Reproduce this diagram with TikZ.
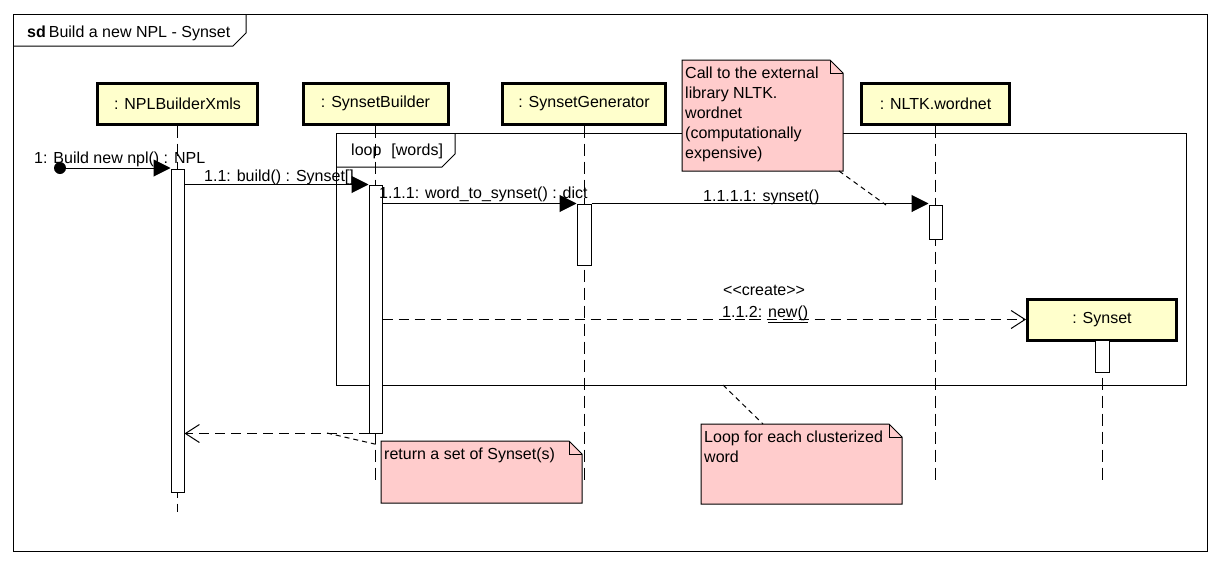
\documentclass[tikz,border=0pt]{standalone}
\usepackage{fontspec}
\setmainfont{Liberation Sans}
\usetikzlibrary{arrows.meta,calc}
\definecolor{headfill}{RGB}{255,255,204}
\definecolor{notefill}{RGB}{255,204,204}
\begin{document}
\begin{tikzpicture}[x=1pt,y=-1pt,
  font=\fontsize{16}{20}\selectfont,
  head/.style={draw, line width=3pt, fill=headfill, inner sep=0pt, minimum height=41pt},
  act/.style={draw, fill=white, line width=1pt, inner sep=0pt, minimum width=13pt},
  lifeline/.style={dash pattern=on 12pt off 6pt, line width=1pt},
  msg/.style={-{Triangle[length=17pt,width=17pt]}, line width=1pt},
  retmsg/.style={dash pattern=on 10pt off 6pt, -{Straight Barb[length=14pt,width=18pt]}, line width=1pt},
  noteline/.style={dash pattern=on 5pt off 4pt, line width=1pt},
  boxnode/.style={inner sep=0pt, outer sep=0pt, anchor=north west},
  notepaper/.style={draw, fill=notefill, line width=1pt},
  txt/.style={inner sep=0pt, anchor=base west},
  ntxt/.style={inner sep=0pt, anchor=north west, align=left}
]
\useasboundingbox (0,0) rectangle (1220,565);
\fill[white] (0,0) rectangle (1220,565);

% outer frame
\node[boxnode, draw, line width=1pt, minimum width=1194pt, minimum height=537pt] (frame) at (13,14) {};
\draw[line width=1pt] ($(frame.north west)+(0,32)$) -- ($(frame.north west)+(220,32)$)
  -- ($(frame.north west)+(233,19)$) -- ($(frame.north west)+(233,0)$);
\node[txt] (title) at (27,37) {\textbf{sd}\hspace{3pt}Build a new NPL - Synset};

% loop fragment
\node[boxnode, draw, line width=1pt, minimum width=850pt, minimum height=252pt] (loop) at (336,133) {};
\draw[line width=1pt] ($(loop.north west)+(0,34)$) -- ($(loop.north west)+(106,34)$)
  -- ($(loop.north west)+(119,21)$) -- ($(loop.north west)+(119,0)$);
\node[txt] (looplbl) at (351,155) {loop\hspace{10pt}[words]};

% lifeline heads
\node[head, minimum width=160pt] (hNPL) at (177.5,103.5) {: NPLBuilderXmls};
\node[head, minimum width=145pt] (hSB) at (375.5,103.5) {: SynsetBuilder};
\node[head, minimum width=163pt] (hSG) at (584,103.5) {: SynsetGenerator};
\node[head, minimum width=148pt] (hNL) at (935.5,103.5) {: NLTK.wordnet};
\node[head, minimum width=149pt] (hSy) at (1102,319.5) {: Synset};

% lifeline ends
\coordinate (eNPL) at (177.5,512);
\coordinate (eSB) at (375.5,484);
\coordinate (eSG) at (584,484);
\coordinate (eNL) at (935.5,484);
\coordinate (eSy) at (1102,484);
\draw[lifeline] (hNPL.south) -- (eNPL);
\draw[lifeline] (hSB.south) -- (eSB);
\draw[lifeline] (hSG.south) -- (eSG);
\draw[lifeline] (hNL.south) -- (eNL);
\draw[lifeline] (hSy.south) -- (eSy);

% activations
\node[act, minimum height=323pt] (aNPL) at (177.5,330.5) {};
\node[act, minimum height=248pt] (aSB) at (375.5,309) {};
\node[act, minimum width=14pt, minimum height=61pt] (aSG) at (584,234.5) {};
\node[act, minimum height=34pt] (aNL) at (935.5,222) {};
\node[act, minimum width=14pt, minimum height=32pt] (aSy) at (1102,356) {};

% messages
\node[circle, fill=black, inner sep=0pt, minimum size=12pt] (start) at (60,168) {};
\draw[msg] (start) -- (start -| aNPL.west);
\node[txt] (m1) at (34,163) {1: Build new npl() : NPL};

\draw[msg] (aNPL.east |- aSB.north) -- (aSB.north west);
\node[txt] (m2) at (204,181) {1.1: build() : Synset[]};

\draw[msg] (aSB.east |- aSG.north) -- (aSG.north west);
\node[txt] (m3) at (379,198) {1.1.1: word\_to\_synset() : dict};

\draw[msg] (aSG.north east) -- (aSG.north east -| aNL.west);
\node[txt] (m4) at (703,201) {1.1.1.1: synset()};

\draw[retmsg] (aSB.east |- hSy.west) -- (hSy.west);
\node[txt] (m5a) at (723,295) {<{}<create>{}>};
\node[txt] (m5b) at (722,317.5) {\underline{1}.\underline{1}.\underline{2}: \underline{new()}};

\draw[retmsg] (aSB.south west) -- (aSB.south west -| aNPL.east);

% notes
\node[boxnode, minimum width=161pt, minimum height=111pt] (n1) at (682,60) {};
\draw[notepaper] (n1.north west) -- ($(n1.north east)+(-13,0)$) -- ($(n1.north east)+(0,13)$)
  -- (n1.south east) -- (n1.south west) -- cycle;
\draw[line width=1pt] ($(n1.north east)+(-13,0)$) -- ($(n1.north east)+(-13,13)$) -- ($(n1.north east)+(0,13)$);
\node[ntxt] (n1t) at (685,67) {Call to the external\\library NLTK.\\wordnet\\(computationally\\expensive)};

\node[boxnode, minimum width=201pt, minimum height=62pt] (n2) at (381,441) {};
\draw[notepaper] (n2.north west) -- ($(n2.north east)+(-13,0)$) -- ($(n2.north east)+(0,13)$)
  -- (n2.south east) -- (n2.south west) -- cycle;
\draw[line width=1pt] ($(n2.north east)+(-13,0)$) -- ($(n2.north east)+(-13,13)$) -- ($(n2.north east)+(0,13)$);
\node[ntxt] (n2t) at (384,448) {return a set of Synset(s)};

\node[boxnode, minimum width=201pt, minimum height=80pt] (n3) at (701,424) {};
\draw[notepaper] (n3.north west) -- ($(n3.north east)+(-13,0)$) -- ($(n3.north east)+(0,13)$)
  -- (n3.south east) -- (n3.south west) -- cycle;
\draw[line width=1pt] ($(n3.north east)+(-13,0)$) -- ($(n3.north east)+(-13,13)$) -- ($(n3.north east)+(0,13)$);
\node[ntxt] (n3t) at (704,431) {Loop for each clusterized\\word};

% note connectors
\coordinate (c1) at (886,205);
\draw[noteline] ($(n1.south east)+(-4,0)$) -- (c1);
\coordinate (c2) at (327,433);
\draw[noteline] (c2) -- ($(n2.north west)+(-2,4)$);
\coordinate (c3) at (723,385);
\draw[noteline] (c3) -- ($(n3.north west)+(62,0)$);
\end{tikzpicture}
\end{document}
